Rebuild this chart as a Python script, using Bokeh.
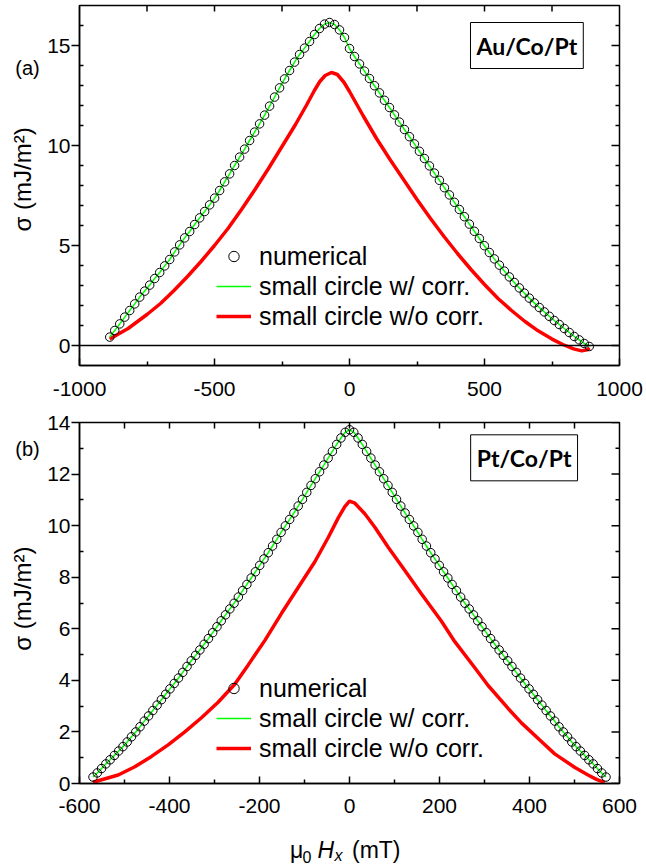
import math
from bokeh.plotting import figure
from bokeh.models import Range1d, Span, Label, Legend, LegendItem, FixedTicker
from bokeh.layouts import column, row
from bokeh.embed import file_html
from bokeh.resources import INLINE

FONT = "Liberation Sans"
BOXFONT = "Lato"
GREEN = "#00ff00"
RED = "#ff0000"

# ---------------- panel (a) Au/Co/Pt ----------------
a_num_x = [-888, -869.5, -851, -832.5, -814, -795.5, -777, -758.5, -740, -721.5, -703, -684.5,
           -666, -647.5, -629, -610.5, -592, -573.5, -555, -536.5, -518, -499.5, -481, -462.5,
           -444, -425.5, -407, -388.5, -370, -351.5, -333, -314.5, -296, -277.5, -259, -240.5,
           -222, -203.5, -185, -166.5, -148, -129.5, -111, -92.5, -74, -55.5, -37, -18.5,
           0, 18.5, 37, 55.5, 74, 92.5, 111, 129.5, 148, 166.5, 185, 203.5,
           222, 240.5, 259, 277.5, 296, 314.5, 333, 351.5, 370, 388.5, 407, 425.5,
           444, 462.5, 481, 499.5, 518, 536.5, 555, 573.5, 592, 610.5, 629, 647.5,
           666, 684.5, 703, 721.5, 740, 758.5, 777, 795.5, 814, 832.5, 851, 869.5, 888]
a_num_y = [0.42, 0.75, 1.08, 1.42, 1.75, 2.08, 2.42, 2.72, 3.02, 3.35, 3.65, 3.98,
           4.3, 4.68, 5.03, 5.38, 5.7, 6.05, 6.38, 6.7, 7.03, 7.37, 7.75, 8.18,
           8.58, 9.0, 9.42, 9.82, 10.25, 10.67, 11.08, 11.52, 11.97, 12.42, 12.88, 13.33,
           13.75, 14.17, 14.55, 14.87, 15.2, 15.55, 15.85, 16.07, 16.15, 16.05, 15.78, 15.4,
           14.85, 14.45, 14.08, 13.72, 13.35, 12.99, 12.63, 12.26, 11.9, 11.53, 11.17, 10.8,
           10.44, 10.08, 9.71, 9.35, 8.98, 8.62, 8.26, 7.89, 7.53, 7.16, 6.8, 6.44,
           6.07, 5.71, 5.35, 4.99, 4.65, 4.33, 4.02, 3.72, 3.43, 3.15, 2.88, 2.62,
           2.37, 2.13, 1.9, 1.68, 1.46, 1.25, 1.05, 0.85, 0.65, 0.45, 0.28, 0.1, -0.05]
a_red_x = [-888, -820, -750, -700, -650, -600, -550, -500, -450, -400, -350, -300, -250,
           -200, -160, -130, -110, -90, -67, -45, -20, 0, 50, 100, 150, 200, 250, 300,
           350, 400, 450, 500, 550, 600, 650, 700, 750, 790, 830, 860, 880, 889]
a_red_y = [0.33, 0.85, 1.55, 2.1, 2.75, 3.45, 4.2, 5.0, 5.85, 6.8, 7.8, 8.85, 9.95,
           11.05, 12.0, 12.75, 13.2, 13.5, 13.65, 13.55, 13.15, 12.7, 11.5, 10.35, 9.3, 8.3, 7.3, 6.35,
           5.45, 4.6, 3.8, 3.05, 2.35, 1.75, 1.2, 0.72, 0.32, 0.05, -0.17, -0.27, -0.22, -0.12]
a_xticks = [-1000, -500, 0, 500, 1000]
a_xlabels = ["-1000", "-500", "0", "500", "1000"]
a_xminor = [-750, -250, 250, 750]
a_xtop = [-750, -500, -250, 0, 250, 500, 750]
a_yticks = [0, 5, 10, 15]
a_yminor = [1, 2, 3, 4, 6, 7, 8, 9, 11, 12, 13, 14, 16]

# ---------------- panel (b) Pt/Co/Pt ----------------
b_num_x = [-570, -560.5, -551, -541.5, -532, -522.5, -513, -503.5, -494, -484.5, -475, -465.5,
           -456, -446.5, -437, -427.5, -418, -408.5, -399, -389.5, -380, -370.5, -361, -351.5,
           -342, -332.5, -323, -313.5, -304, -294.5, -285, -275.5, -266, -256.5, -247, -237.5,
           -228, -218.5, -209, -199.5, -190, -180.5, -171, -161.5, -152, -142.5, -133, -123.5,
           -114, -104.5, -95, -85.5, -76, -66.5, -57, -47.5, -38, -28.5, -19, -9.5,
           0, 9.5, 19, 28.5, 38, 47.5, 57, 66.5, 76, 85.5, 95, 104.5,
           114, 123.5, 133, 142.5, 152, 161.5, 171, 180.5, 190, 199.5, 209, 218.5,
           228, 237.5, 247, 256.5, 266, 275.5, 285, 294.5, 304, 313.5, 323, 332.5,
           342, 351.5, 361, 370.5, 380, 389.5, 399, 408.5, 418, 427.5, 437, 446.5,
           456, 465.5, 475, 484.5, 494, 503.5, 513, 522.5, 532, 541.5, 551, 560.5, 570]
b_num_y = [0.25, 0.41, 0.58, 0.76, 0.92, 1.09, 1.26, 1.43, 1.61, 1.81, 2.0, 2.2,
           2.42, 2.62, 2.83, 3.04, 3.25, 3.46, 3.67, 3.88, 4.09, 4.31, 4.54, 4.76,
           4.97, 5.18, 5.4, 5.62, 5.85, 6.08, 6.31, 6.54, 6.77, 6.99, 7.23, 7.48,
           7.72, 7.97, 8.21, 8.46, 8.71, 8.95, 9.21, 9.47, 9.74, 9.99, 10.24, 10.49,
           10.76, 11.02, 11.29, 11.56, 11.82, 12.09, 12.35, 12.62, 12.88, 13.15, 13.4, 13.62,
           13.72, 13.62, 13.4, 13.15, 12.88, 12.62, 12.35, 12.09, 11.82, 11.56, 11.29, 11.02,
           10.76, 10.49, 10.24, 9.99, 9.74, 9.47, 9.21, 8.95, 8.71, 8.46, 8.21, 7.97,
           7.72, 7.48, 7.23, 6.99, 6.77, 6.54, 6.31, 6.08, 5.85, 5.62, 5.4, 5.18,
           4.97, 4.76, 4.54, 4.31, 4.09, 3.88, 3.67, 3.46, 3.25, 3.04, 2.83, 2.62,
           2.42, 2.2, 2.0, 1.81, 1.61, 1.43, 1.26, 1.09, 0.92, 0.76, 0.58, 0.41, 0.25]
b_red_x = [-570, -514, -477, -440, -403, -366, -329, -292, -255, -225, -188, -151, -114, -77,
           -47, -25, -10, 0, 12, 34, 56, 86, 123, 160, 204, 234, 278, 308, 353, 382, 427, 456,
           501, 530, 550, 567]
b_red_y = [0.05, 0.33, 0.65, 1.05, 1.5, 2.0, 2.55, 3.15, 3.85, 4.6, 5.55, 6.6, 7.6, 8.6,
           9.55, 10.3, 10.75, 10.95, 10.87, 10.46, 9.95, 9.16, 8.26, 7.35, 6.3, 5.5, 4.5, 3.8, 2.9, 2.35,
           1.62, 1.15, 0.62, 0.33, 0.15, 0.04]
b_xticks = [-600, -400, -200, 0, 200, 400, 600]
b_xlabels = ["-600", "-400", "-200", "0", "200", "400", "600"]
b_xminor = [-500, -300, -100, 100, 300, 500]
b_xtop = [-500, -400, -300, -200, -100, 0, 100, 200, 300, 400, 500]
b_yticks = [0, 2, 4, 6, 8, 10, 12, 14]
b_yminor = [1, 3, 5, 7, 9, 11, 13]

LEG_LABELS = ["numerical", "small circle w/ corr.", "small circle w/o corr."]
YLABEL = "σ (mJ/m²)"


def style_axis(ax, maj_in, maj_out, min_in, min_out, standoff):
    ax.axis_line_color = "black"
    ax.axis_line_width = 1.5
    ax.major_tick_line_color = "black"
    ax.major_tick_line_width = 1.5
    ax.minor_tick_line_color = "black"
    ax.minor_tick_line_width = 1.5
    ax.major_tick_in = maj_in
    ax.major_tick_out = maj_out
    ax.minor_tick_in = min_in
    ax.minor_tick_out = min_out
    ax.major_label_text_font = FONT
    ax.major_label_text_font_size = "21px"
    ax.major_label_text_color = "black"
    ax.major_label_standoff = standoff


def panel(xr, yr, fh, btop, bbot, xmaj, xlab, xmin, xtop, ymaj, ymin, xstand):
    p = figure(frame_width=540, frame_height=fh, x_range=Range1d(*xr), y_range=Range1d(*yr),
               min_border_left=34, min_border_right=27, min_border_top=btop,
               min_border_bottom=bbot, output_backend="svg", toolbar_location=None)
    p.xgrid.visible = False
    p.ygrid.visible = False
    p.outline_line_color = "black"
    p.outline_line_width = 1.5
    p.xaxis.ticker = FixedTicker(ticks=xmaj, minor_ticks=xmin)
    p.xaxis.major_label_overrides = dict(zip(xmaj, xlab))
    style_axis(p.xaxis[0], 7, 0, 4, 0, xstand)
    p.yaxis.ticker = FixedTicker(ticks=ymaj, minor_ticks=ymin)
    style_axis(p.yaxis[0], 0, 8, 4, 0, 1)
    # inward ticks on the top and right frame edges
    ppx = 540.0 / (xr[1] - xr[0])
    ppy = fh / (yr[1] - yr[0])
    p.segment(x0=xtop, x1=xtop, y0=[yr[1]] * len(xtop), y1=[yr[1] - 6 / ppy] * len(xtop),
              line_color="black", line_width=1.5)
    p.segment(x0=[xr[1]] * len(ymaj), x1=[xr[1] - 8 / ppx] * len(ymaj), y0=ymaj, y1=ymaj,
              line_color="black", line_width=1.5)
    p.segment(x0=[xr[1]] * len(ymin), x1=[xr[1] - 4 / ppx] * len(ymin), y0=ymin, y1=ymin,
              line_color="black", line_width=1.5)
    return p


def draw(p, nx, ny, rx, ry, loc):
    rr = p.line(rx, ry, line_color=RED, line_width=3.5)
    rg = p.line(nx, ny, line_color=GREEN, line_width=1.5)
    rc = p.scatter(nx, ny, marker="circle", size=8.5, fill_color=None,
                   line_color="black", line_width=1)
    leg = Legend(items=[LegendItem(label=LEG_LABELS[0], renderers=[rc]),
                        LegendItem(label=LEG_LABELS[1], renderers=[rg]),
                        LegendItem(label=LEG_LABELS[2], renderers=[rr])],
                 location=loc, orientation="vertical", border_line_color=None,
                 background_fill_alpha=0, padding=0, margin=0, spacing=0,
                 glyph_width=35, glyph_height=26, label_height=30, label_standoff=8,
                 label_text_font=FONT, label_text_font_size="25px", label_text_color="black")
    p.add_layout(leg)


def blank(w, h):
    f = figure(width=w, height=h, x_range=Range1d(0, w), y_range=Range1d(0, h),
               x_axis_location=None, y_axis_location=None, min_border=0,
               output_backend="svg", toolbar_location=None)
    f.xgrid.visible = False
    f.ygrid.visible = False
    f.outline_line_color = None
    return f


def lab(f, x, y, s, size, **kw):
    f.add_layout(Label(x=x, y=y, text=s, text_font=kw.pop("font", FONT),
                       text_font_size=size, text_color="black", **kw))


def boxlab(p, x, y, s):
    p.add_layout(Label(x=x, y=y, text=s, text_font=BOXFONT, text_font_size="23px",
                       text_font_style="bold", text_color="black", text_align="center",
                       text_baseline="middle", border_line_color="black", border_line_width=1,
                       background_fill_color="white", padding=(6, 9)))


# panel (a)
p1 = panel((-1000, 1000), (-1, 17), 360, 5, 47, a_xticks, a_xlabels, a_xminor, a_xtop,
           a_yticks, a_yminor, 16)
p1.add_layout(Span(location=0, dimension="width", line_color="black", line_width=1.5))
draw(p1, a_num_x, a_num_y, a_red_x, a_red_y, (137, 34))
boxlab(p1, 657, 15.0, "Au/Co/Pt")
l1 = blank(44, 412)
lab(l1, 27, 340, "(a)", "20px", text_align="center", text_baseline="middle")
lab(l1, 22, 213, YLABEL, "24px", text_align="center", text_baseline="middle",
    angle=math.pi / 2)

# panel (b)
p2 = panel((-600, 600), (0, 14), 361, 10, 37, b_xticks, b_xlabels, b_xminor, b_xtop,
           b_yticks, b_yminor, 15)
draw(p2, b_num_x, b_num_y, b_red_x, b_red_y, (137, 20))
boxlab(p2, 388, 12.63, "Pt/Co/Pt")
l2 = blank(44, 408)
lab(l2, 27, 378, "(b)", "20px", text_align="center", text_baseline="middle")
lab(l2, 22, 209, YLABEL, "24px", text_align="center", text_baseline="middle",
    angle=math.pi / 2)

# x axis title: mu_0 H_x (mT)
t3 = blank(645, 46)
lab(t3, 289.5, 17, "μ", "23px", text_align="left", text_baseline="middle")
lab(t3, 302, 10, "0", "16px", text_align="left", text_baseline="middle")
lab(t3, 317, 17, "H", "23px", text_align="left", text_baseline="middle",
    text_font_style="italic")
lab(t3, 334, 11, "x", "16px", text_align="left", text_baseline="middle",
    text_font_style="italic")
lab(t3, 351.5, 17, "(mT)", "23px", text_align="left", text_baseline="middle")

layout = column(row(l1, p1, spacing=0), row(l2, p2, spacing=0), t3, spacing=0)
open("out.html", "w").write(file_html(layout, INLINE))
